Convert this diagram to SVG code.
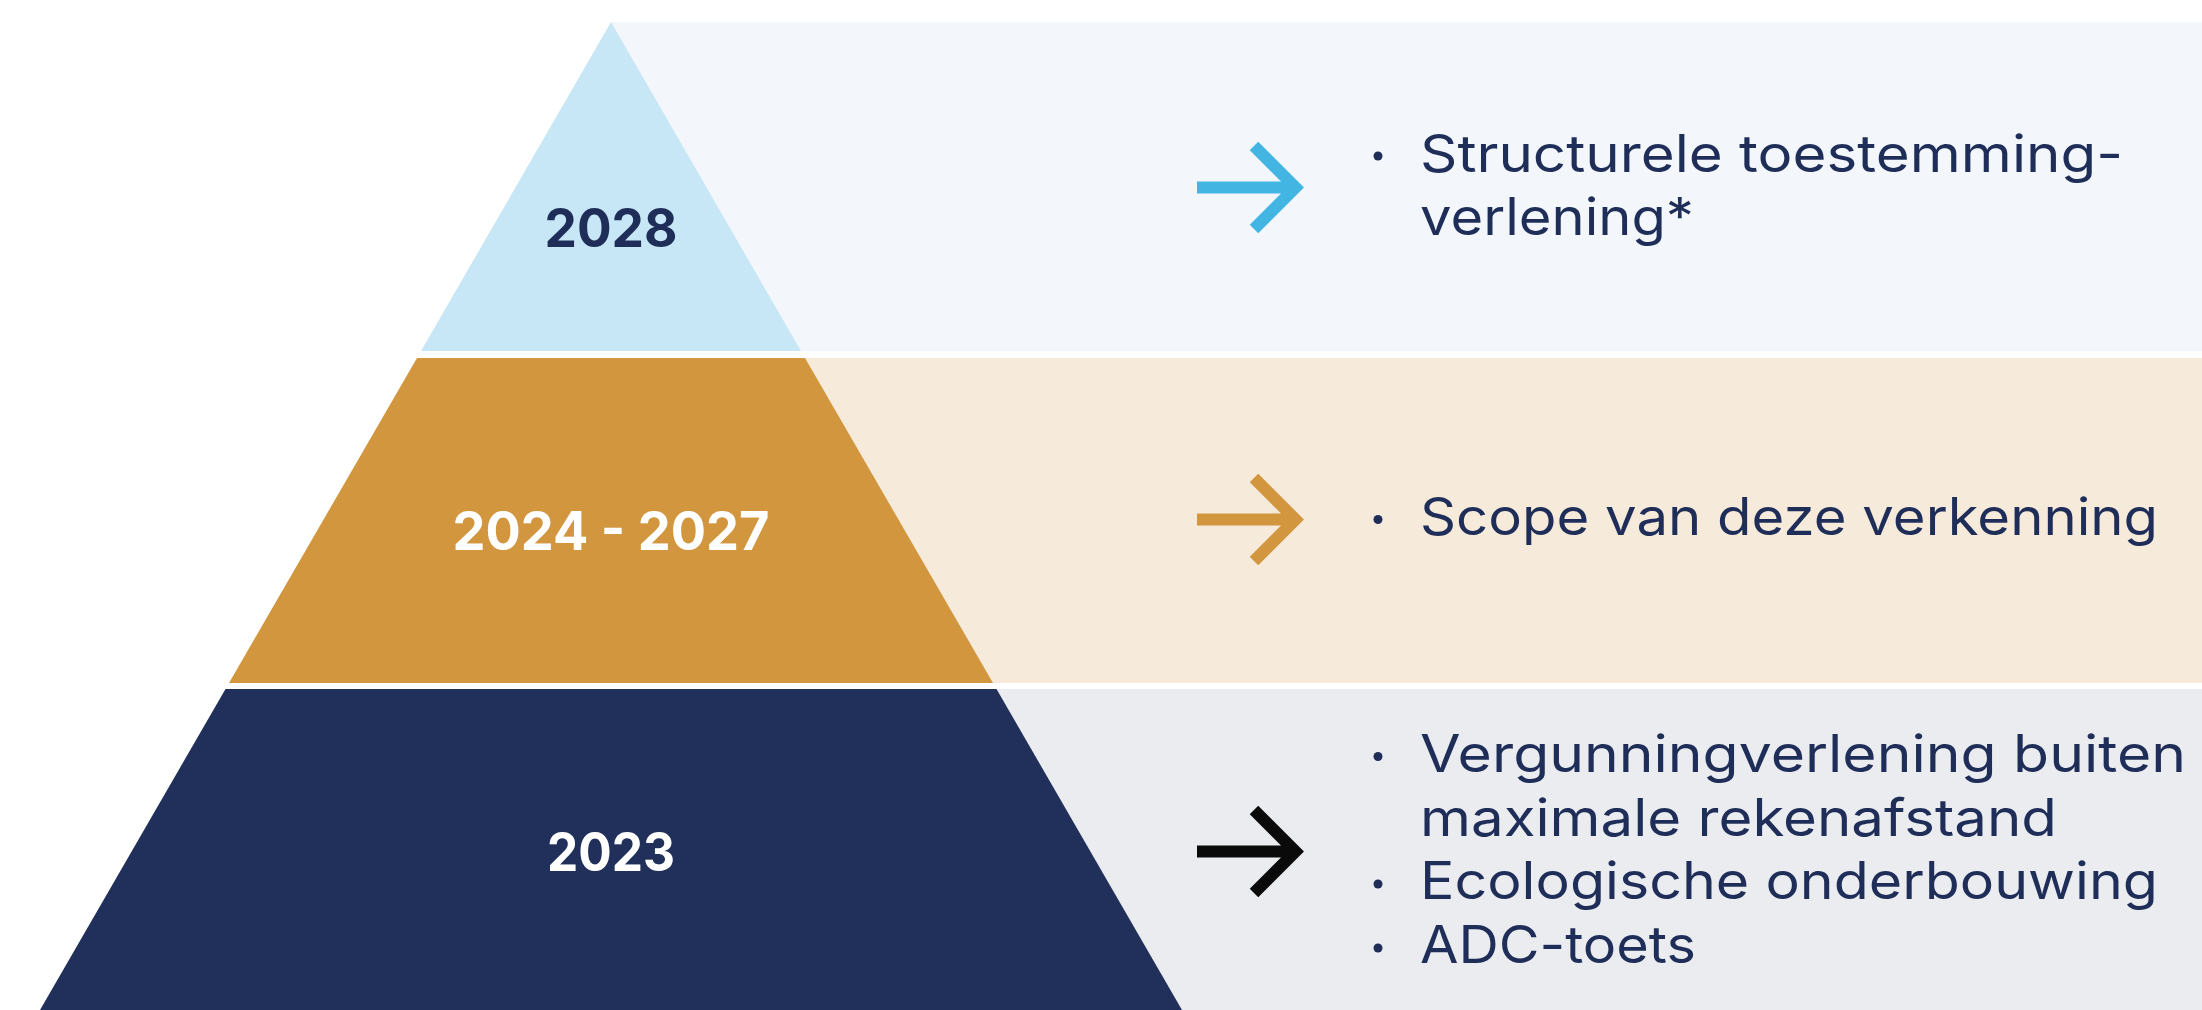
<svg xmlns="http://www.w3.org/2000/svg" width="2202" height="1010" viewBox="0 0 2202 1010">
<style>
.body{font-family:Inter,"Open Sans","Liberation Sans",sans-serif;font-size:52px;fill:#1F2E58;}
.lbl{font-family:Inter,"Open Sans","Liberation Sans",sans-serif;font-size:53px;font-weight:bold;text-anchor:middle;}
.bul{fill:#1F2E58;}
.arr{fill:none;stroke-width:12;stroke-linejoin:miter;stroke-linecap:butt;}
</style>
<rect width="2202" height="1010" fill="#FFFFFF"/>
<g id="band-2028"><rect x="611" y="22" width="1591" height="329" fill="#F3F7FB"/></g>
<g id="band-2024-2027"><rect x="611" y="358" width="1591" height="325" fill="#F6EADB"/></g>
<g id="band-2023"><rect x="611" y="689" width="1591" height="321" fill="#EBECF0"/></g>

<g id="tier-2028">
<polygon points="611,22 801,351 421,351" fill="#C7E7F6"/>
<text class="lbl" x="611" y="247" fill="#1F2E58" textLength="133" lengthAdjust="spacingAndGlyphs">2028</text>
</g>
<g id="tier-2024-2027">
<polygon points="417,358 805,358 993,683 229,683" fill="#D2963F"/>
<text class="lbl" x="611" y="550" fill="#FFFFFF" textLength="317" lengthAdjust="spacingAndGlyphs">2024 - 2027</text>
</g>
<g id="tier-2023">
<polygon points="225.5,689 996.5,689 1182,1010 40,1010" fill="#20305A"/>
<text class="lbl" x="611" y="871" fill="#FFFFFF" textLength="128" lengthAdjust="spacingAndGlyphs">2023</text>
</g>

<g id="connectors">
<path class="arr" stroke="#43B5E3" d="M1197,187.5 H1294 M1254,146 L1295.5,187.5 L1254,229"/>
<path class="arr" stroke="#D2963F" d="M1197,519.5 H1294 M1254,478 L1295.5,519.5 L1254,561"/>
<path class="arr" stroke="#0A0A0A" d="M1197,851.5 H1294 M1254,810 L1295.5,851.5 L1254,893"/>
</g>

<g id="text-2028">
<circle class="bul" cx="1378" cy="156" r="4.5"/>
<text class="body" x="1420" y="171.7" textLength="703" lengthAdjust="spacingAndGlyphs">Structurele toestemming-</text>
<text class="body" x="1420" y="235" textLength="274" lengthAdjust="spacingAndGlyphs">verlening*</text>
</g>
<g id="text-2024-2027">
<circle class="bul" cx="1378" cy="519.5" r="4.5"/>
<text class="body" x="1420" y="535" textLength="738" lengthAdjust="spacingAndGlyphs">Scope van deze verkenning</text>
</g>
<g id="text-2023">
<circle class="bul" cx="1378" cy="756.5" r="4.5"/>
<text class="body" x="1420" y="771.7" textLength="766" lengthAdjust="spacingAndGlyphs">Vergunningverlening buiten</text>
<text class="body" x="1420" y="835.7" textLength="637" lengthAdjust="spacingAndGlyphs">maximale rekenafstand</text>
<circle class="bul" cx="1378" cy="884" r="4.5"/>
<text class="body" x="1420" y="899.3" textLength="738" lengthAdjust="spacingAndGlyphs">Ecologische onderbouwing</text>
<circle class="bul" cx="1378" cy="948" r="4.5"/>
<text class="body" x="1420" y="963.3" textLength="276" lengthAdjust="spacingAndGlyphs">ADC-toets</text>
</g>
</svg>
